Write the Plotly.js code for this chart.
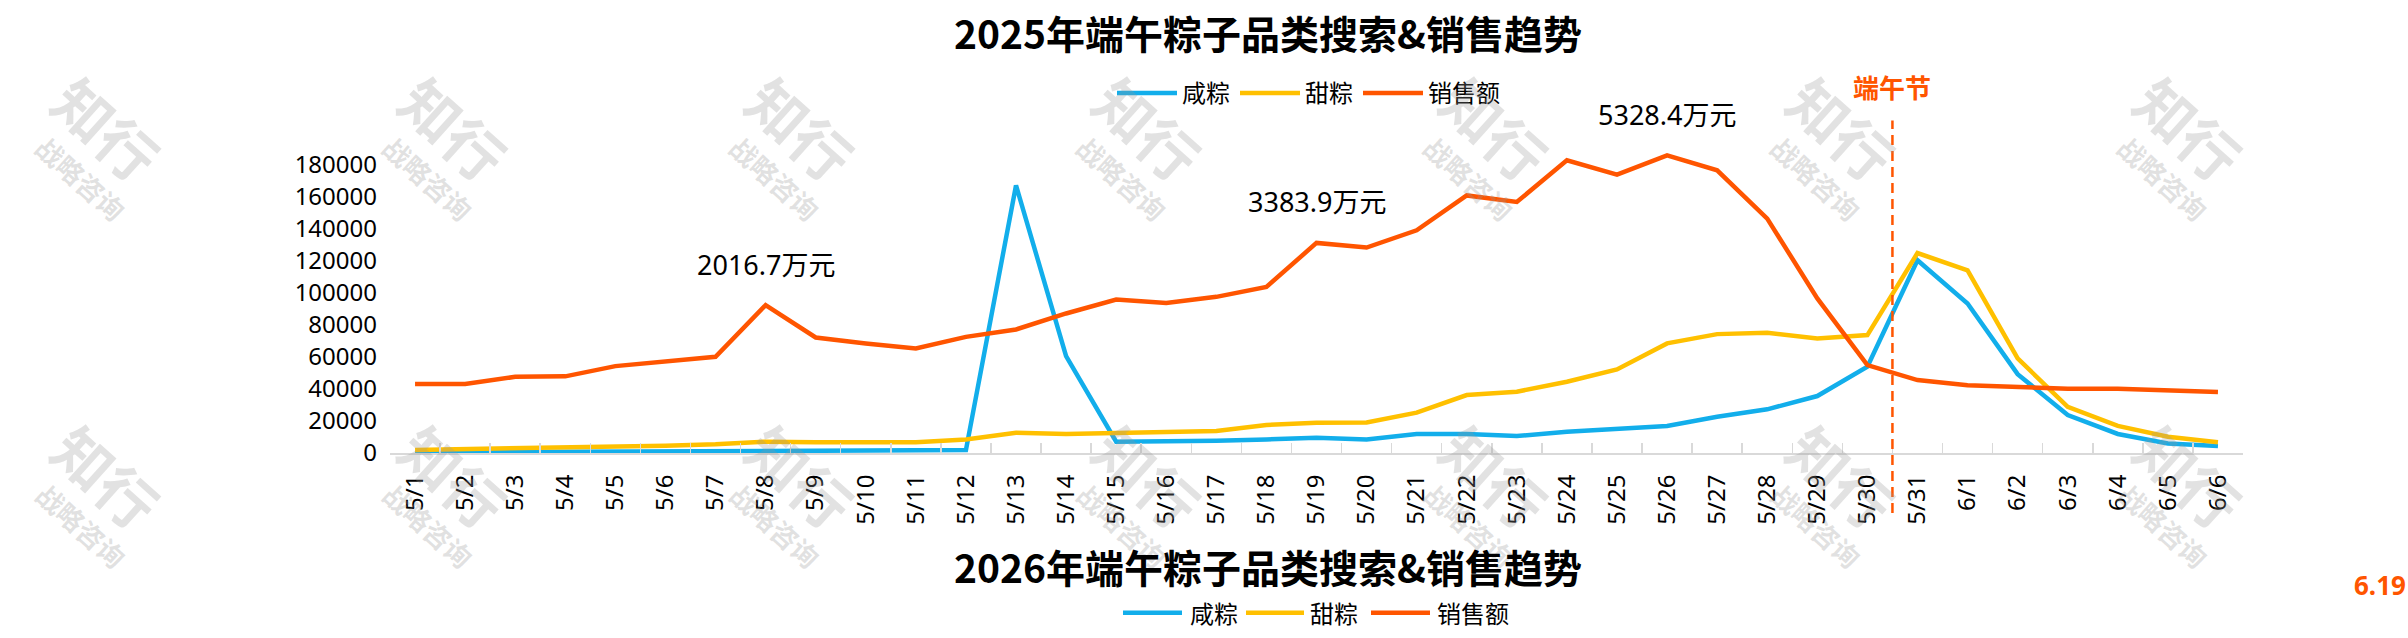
<!DOCTYPE html>
<html>
<head>
<meta charset="utf-8">
<script src="https://cdn.plot.ly/plotly-3.0.1.min.js"></script>
<style>
html, body { margin: 0; padding: 0; background: #ffffff; }
#chart { width: 2408px; height: 638px; }
</style>
</head>
<body>
<div id="chart"></div>
<script>
// ---------------- data ----------------
const categories = ['5/1','5/2','5/3','5/4','5/5','5/6','5/7','5/8','5/9','5/10','5/11','5/12','5/13','5/14','5/15','5/16','5/17','5/18','5/19','5/20','5/21','5/22','5/23','5/24','5/25','5/26','5/27','5/28','5/29','5/30','5/31','6/1','6/2','6/3','6/4','6/5','6/6'];
const seriesNames = ['咸粽', '甜粽', '销售额'];
const xianZong = [300,400,500,600,700,800,1000,1300,1400,1500,1600,1800,167300,60500,7100,7100,7700,8500,9600,8500,11900,11900,10600,13300,15400,16900,22700,27300,35600,53900,120500,93400,49300,23700,11900,6000,4400];
const tianZong = [1900,2300,2900,3500,3900,4600,5400,7100,6700,6700,6700,8500,12700,11900,12300,12700,13700,17500,18900,19100,25200,36200,38300,44500,52200,68500,74300,75100,71600,73700,125000,114200,59100,28900,16900,10200,6700];
const salesAmount = [43100,43100,47600,47900,54300,57000,60100,92400,72200,68500,65300,72600,77200,87200,95900,93800,97600,103800,131300,128400,139200,161000,156900,182900,174000,186000,176700,146500,96600,54900,45600,42400,41000,40200,40200,39100,38100];
const peakDates = ['5/8', '5/19', '5/26'];
const peakLabels = ['2016.7万元', '3383.9万元', '5328.4万元'];
const yTickValues = [0,20000,40000,60000,80000,100000,120000,140000,160000,180000];
const festivalBefore = '5/30';
const festivalLabel = '端午节';
const title2025 = '2025年端午粽子品类搜索&销售趋势';
const title2026 = '2026年端午粽子品类搜索&销售趋势';
const cutLabel = '6.19';
const watermarkMain = '知行';
const watermarkSub = '战略咨询';

// ---------------- styling / geometry ----------------
const colors = ['#12AEEB', '#FFC000', '#FF5500'];
const W = 2408, H = 638;
const L = 390, R = 2243, T = 132.6, B = 453;
const px2x = p => (p - L) / (R - L);
const py2y = p => (B - p) / (B - T);
const numFont = 'Noto Sans, Noto Sans CJK SC, sans-serif';
const cjkFont = 'Noto Sans CJK SC, Noto Sans, sans-serif';

const seriesValues = [xianZong, tianZong, salesAmount];
const traces = seriesValues.map((vals, i) => ({
  type: 'scatter',
  mode: 'lines',
  name: seriesNames[i],
  x: categories,
  y: vals,
  line: { color: colors[i], width: 4.5 },
  hoverinfo: 'x+y+name'
}));

const annotations = [];
const shapes = [];
const paperNote = (cx, cy, text, font, extra) => Object.assign({
  xref: 'paper', yref: 'paper', x: px2x(cx), y: py2y(cy),
  xanchor: 'center', yanchor: 'middle', showarrow: false, text: text, font: font
}, extra || {});

// watermarks (drawn first so other text sits on top)
[128, 476].forEach(cy => {
  for (let i = 0; i < 7; i++) {
    const cx = 107 + 347 * i;
    annotations.push(paperNote(cx, cy, watermarkMain,
      { family: cjkFont, size: 58, color: 'rgba(150,150,150,0.28)', weight: 'bold' }, { textangle: 42 }));
    annotations.push(paperNote(cx - 26, cy + 50, watermarkSub,
      { family: cjkFont, size: 27, color: 'rgba(150,150,150,0.28)', weight: 'bold' }, { textangle: 42 }));
  }
});

// peak value labels
peakDates.forEach((d, i) => {
  annotations.push({
    xref: 'x', yref: 'y', x: d, y: salesAmount[categories.indexOf(d)],
    xanchor: 'center', yanchor: 'middle',
    yshift: 41, showarrow: false, text: peakLabels[i],
    font: { family: numFont, size: 27, color: '#000000' }
  });
});

// festival marker
const festivalX = categories.indexOf(festivalBefore) + 0.5;
shapes.push({
  type: 'line', xref: 'x', yref: 'paper', x0: festivalX, x1: festivalX,
  y0: py2y(513), y1: py2y(120),
  line: { color: '#FF5500', width: 2.5, dash: '10px,6px' }
});
annotations.push({
  xref: 'x', yref: 'paper', x: festivalX, y: py2y(86), xanchor: 'center', yanchor: 'middle',
  showarrow: false, text: festivalLabel,
  font: { family: cjkFont, size: 26, color: '#FF5500', weight: 'bold' }
});

// second (cut-off) chart title and legend
annotations.push(paperNote(1268, 566, title2026,
  { family: cjkFont, size: 39, color: '#000000', weight: 'bold' }));
const leg2Lines = [[1123, 1182], [1246, 1304], [1371, 1430]];
const leg2Text = [1188, 1308, 1435];
seriesNames.forEach((n, i) => {
  shapes.push({
    type: 'line', xref: 'paper', yref: 'paper',
    x0: px2x(leg2Lines[i][0]), x1: px2x(leg2Lines[i][1]), y0: py2y(613), y1: py2y(613),
    line: { color: colors[i], width: 4.5 }
  });
  annotations.push(paperNote(leg2Text[i], 613, n,
    { family: cjkFont, size: 24, color: '#000000' }, { xanchor: 'left' }));
});
annotations.push(paperNote(2352, 585, cutLabel,
  { family: numFont, size: 26, color: '#FF5500', weight: 'bold' }, { xanchor: 'left' }));

const layout = {
  width: W, height: H,
  paper_bgcolor: '#ffffff', plot_bgcolor: 'rgba(0,0,0,0)',
  margin: { l: L, r: W - R, t: T, b: H - B, pad: 0 },
  title: {
    text: title2025, xref: 'container', yref: 'container',
    x: 1268 / W, y: 1 - 35 / H, xanchor: 'center', yanchor: 'middle',
    font: { family: cjkFont, size: 39, color: '#000000', weight: 'bold' }
  },
  showlegend: true,
  legend: {
    orientation: 'h', xref: 'paper', yref: 'paper',
    x: px2x(1112), xanchor: 'left', y: py2y(93), yanchor: 'middle',
    font: { family: cjkFont, size: 24, color: '#000000' },
    bgcolor: 'rgba(0,0,0,0)', itemwidth: 60, traceorder: 'normal'
  },
  xaxis: {
    type: 'category', categoryorder: 'array', categoryarray: categories,
    range: [-0.5, categories.length - 0.5],
    showline: true, linecolor: '#D9D9D9', linewidth: 2,
    ticks: 'inside', tickson: 'boundaries', ticklen: 10, tickwidth: 1.5, tickcolor: '#D9D9D9',
    tickangle: -90, ticklabelstandoff: 10,
    tickfont: { family: numFont, size: 24, color: '#000000' },
    showgrid: false, zeroline: false, fixedrange: true
  },
  yaxis: {
    range: [0, 200000], tickvals: yTickValues, tickformat: 'd',
    showline: false, showgrid: false, zeroline: false, ticks: '',
    ticklabelstandoff: 12,
    tickfont: { family: numFont, size: 24, color: '#000000' },
    fixedrange: true
  },
  annotations: annotations,
  shapes: shapes
};

Plotly.newPlot('chart', traces, layout, { displayModeBar: false, staticPlot: true });
</script>
</body>
</html>
